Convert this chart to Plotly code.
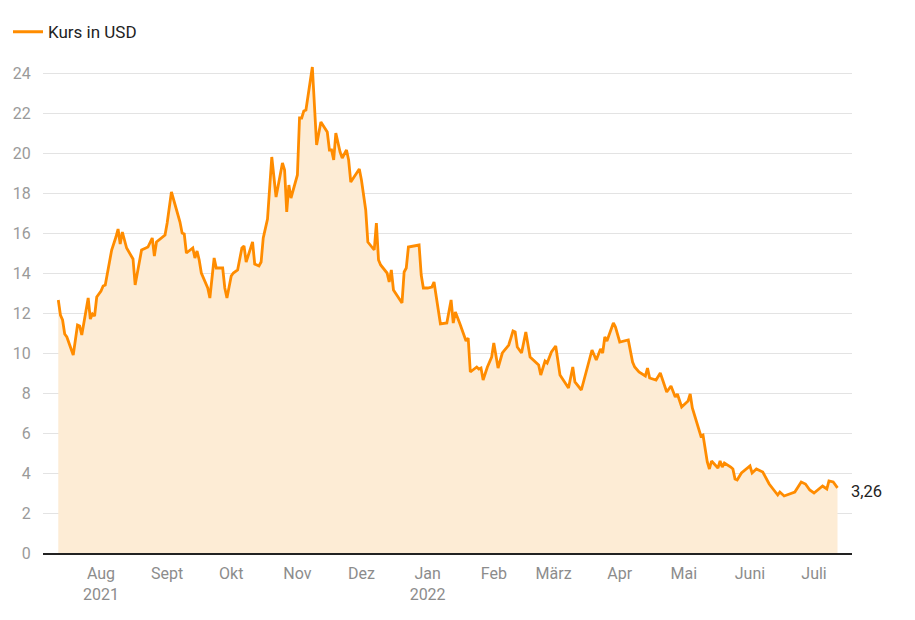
import plotly.graph_objects as go

dates = [
    "2021-07-12", "2021-07-13", "2021-07-14", "2021-07-15", "2021-07-16", "2021-07-19",
    "2021-07-21", "2021-07-22", "2021-07-23", "2021-07-26", "2021-07-27", "2021-07-28",
    "2021-07-29", "2021-07-30", "2021-08-01", "2021-08-02", "2021-08-03", "2021-08-06",
    "2021-08-08", "2021-08-09", "2021-08-10", "2021-08-11", "2021-08-13", "2021-08-15",
    "2021-08-16", "2021-08-17", "2021-08-20", "2021-08-22", "2021-08-23", "2021-08-25",
    "2021-08-26", "2021-08-27", "2021-08-31",
    "2021-09-01", "2021-09-03", "2021-09-05", "2021-09-07", "2021-09-08", "2021-09-09",
    "2021-09-10", "2021-09-12", "2021-09-13", "2021-09-14", "2021-09-15", "2021-09-16",
    "2021-09-17", "2021-09-20", "2021-09-21", "2021-09-23", "2021-09-24", "2021-09-27",
    "2021-09-28", "2021-09-29",
    "2021-10-01", "2021-10-02", "2021-10-04", "2021-10-06", "2021-10-07", "2021-10-08",
    "2021-10-11", "2021-10-12", "2021-10-14", "2021-10-15", "2021-10-16", "2021-10-18",
    "2021-10-20", "2021-10-22", "2021-10-25", "2021-10-26", "2021-10-27", "2021-10-28",
    "2021-10-29",
    "2021-11-01", "2021-11-02", "2021-11-03", "2021-11-04", "2021-11-05", "2021-11-08",
    "2021-11-10", "2021-11-12", "2021-11-15", "2021-11-16", "2021-11-17", "2021-11-18",
    "2021-11-19", "2021-11-21", "2021-11-22", "2021-11-24", "2021-11-25", "2021-11-26",
    "2021-11-30",
    "2021-12-01", "2021-12-03", "2021-12-04", "2021-12-07", "2021-12-08", "2021-12-09",
    "2021-12-10", "2021-12-13", "2021-12-14", "2021-12-15", "2021-12-16", "2021-12-20",
    "2021-12-21", "2021-12-22", "2021-12-23", "2021-12-28", "2021-12-29", "2021-12-30",
    "2022-01-01", "2022-01-03", "2022-01-04", "2022-01-06", "2022-01-07", "2022-01-10",
    "2022-01-12", "2022-01-13", "2022-01-14", "2022-01-16", "2022-01-19", "2022-01-20",
    "2022-01-21", "2022-01-24", "2022-01-25", "2022-01-26", "2022-01-27", "2022-01-29",
    "2022-01-31",
    "2022-02-01", "2022-02-03", "2022-02-05", "2022-02-08", "2022-02-10", "2022-02-11",
    "2022-02-12", "2022-02-14", "2022-02-16", "2022-02-18", "2022-02-22", "2022-02-23",
    "2022-02-25", "2022-02-26", "2022-02-28",
    "2022-03-02", "2022-03-04", "2022-03-08", "2022-03-10", "2022-03-11", "2022-03-14",
    "2022-03-17", "2022-03-19", "2022-03-21", "2022-03-23", "2022-03-24", "2022-03-25",
    "2022-03-26", "2022-03-29", "2022-03-30",
    "2022-04-01", "2022-04-05", "2022-04-07", "2022-04-08", "2022-04-10", "2022-04-13",
    "2022-04-14", "2022-04-15", "2022-04-18", "2022-04-20", "2022-04-23", "2022-04-25",
    "2022-04-27", "2022-04-28", "2022-04-30",
    "2022-05-03", "2022-05-04", "2022-05-05", "2022-05-09", "2022-05-10", "2022-05-12",
    "2022-05-13", "2022-05-14", "2022-05-17", "2022-05-18", "2022-05-19", "2022-05-20",
    "2022-05-23", "2022-05-24", "2022-05-25", "2022-05-26", "2022-05-28",
    "2022-06-01", "2022-06-02", "2022-06-04", "2022-06-07", "2022-06-10", "2022-06-14",
    "2022-06-15", "2022-06-17", "2022-06-22", "2022-06-25", "2022-06-27", "2022-06-29",
    "2022-07-01", "2022-07-05", "2022-07-07", "2022-07-08", "2022-07-10", "2022-07-12",
]

kurs_usd = [
    12.65, 11.9, 11.65, 10.95, 10.8, 9.9,
    11.4, 11.35, 10.9, 12.75, 11.7, 11.95,
    11.85, 12.8, 13.1, 13.35, 13.4, 15.15,
    15.8, 16.2, 15.45, 16.05, 15.25, 14.9,
    14.7, 13.4, 15.15, 15.25, 15.3, 15.75,
    14.85, 15.55, 15.9,
    16.5, 18.05, 17.3, 16.55, 16.0, 15.95,
    15.0, 15.15, 15.25, 14.75, 15.1, 14.65,
    14.0, 13.25, 12.75, 14.75, 14.25, 14.25,
    13.25, 12.75,
    13.85, 14.0, 14.15, 15.25, 15.35, 14.55,
    15.55, 14.45, 14.35, 14.55, 15.75, 16.7,
    19.8, 17.8, 19.5, 19.15, 17.05, 18.4,
    17.75,
    18.9, 21.75, 21.75, 22.1, 22.15, 24.3,
    20.4, 21.55, 21.05, 20.15, 20.15, 19.65,
    21.0, 20.05, 19.75, 20.15, 19.65, 18.55,
    19.2,
    18.65, 17.15, 15.55, 15.15, 16.5, 14.65,
    14.4, 14.0, 13.55, 14.15, 13.15, 12.5,
    14.05, 14.25, 15.3, 15.4, 13.9, 13.25,
    13.25, 13.3, 13.55, 12.15, 11.45, 11.5,
    12.65, 11.5, 12.05, 11.5, 10.6, 10.75,
    9.05, 9.3, 9.2, 9.25, 8.65, 9.3,
    9.8,
    10.5, 9.25, 10.0, 10.4, 11.1, 11.05,
    10.3, 10.0, 11.05, 9.8, 9.4, 8.9,
    9.6, 9.5, 10.05,
    10.35, 8.9, 8.25, 9.3, 8.55, 8.15,
    9.3, 10.15, 9.65, 10.2, 10.0, 10.8,
    10.6, 11.5, 11.3,
    10.55, 10.65, 9.55, 9.3, 9.05, 8.85,
    9.25, 8.75, 8.65, 9.0, 8.05, 8.35,
    7.8, 7.95, 7.3,
    7.6, 7.95, 7.25, 5.85, 5.9, 4.55,
    4.2, 4.6, 4.25, 4.6, 4.3, 4.5,
    4.3, 4.2, 3.7, 3.65, 4.0,
    4.35, 4.0, 4.2, 4.05, 3.45, 2.9,
    3.05, 2.85, 3.05, 3.55, 3.45, 3.15,
    3.0, 3.35, 3.2, 3.6, 3.55, 3.26,
]

tick_dates = ["2021-08-01", "2021-09-01", "2021-10-01", "2021-11-01", "2021-12-01",
              "2022-01-01", "2022-02-01", "2022-03-01", "2022-04-01", "2022-05-01",
              "2022-06-01", "2022-07-01"]
tick_labels = ["Aug<br>2021", "Sept", "Okt", "Nov", "Dez", "Jan<br>2022", "Feb",
               "März", "Apr", "Mai", "Juni", "Juli"]
y_ticks = [0, 2, 4, 6, 8, 10, 12, 14, 16, 18, 20, 22, 24]

LINE = "#ff8c00"
FILL = "#fdecd5"

fig = go.Figure()
fig.add_trace(go.Scatter(
    x=dates, y=kurs_usd, mode="lines", fill="tozeroy", fillcolor=FILL,
    line=dict(width=0, color=FILL), showlegend=False, hoverinfo="skip",
))
fig.add_trace(go.Scatter(
    x=dates, y=kurs_usd, mode="lines", name="Kurs in USD",
    line=dict(width=2.8, color=LINE, shape="linear"),
))

last_val = kurs_usd[-1]
fig.add_annotation(
    x=dates[-1], y=last_val, text=f"{last_val:.2f}".replace(".", ","),
    showarrow=False, xanchor="left", yanchor="middle", xshift=11, yshift=-4,
    font=dict(size=16.5, color="#222222"),
)

fig.update_layout(
    width=915, height=620,
    margin=dict(l=35, r=71, t=45, b=75, autoexpand=False),
    paper_bgcolor="white", plot_bgcolor="white",
    font=dict(family="Roboto, 'Noto Sans', sans-serif", size=16, color="#999999"),
    showlegend=True,
    legend=dict(
        orientation="h", xref="container", yref="container",
        x=-0.006, y=0.99, xanchor="left", yanchor="top",
        font=dict(size=17, color="#222222"), bgcolor="rgba(0,0,0,0)",
    ),
    xaxis=dict(
        type="date", range=["2021-07-04 20:00", "2022-07-18 19:00"],
        tickvals=tick_dates, ticktext=tick_labels,
        showgrid=False, zeroline=False,
        showline=True, linecolor="#222222", linewidth=1.5,
        ticks="outside", ticklen=5, tickcolor="rgba(0,0,0,0)",
        tickfont=dict(size=16, color="#8c8c8c"),
    ),
    yaxis=dict(
        range=[0, 25], tickvals=y_ticks,
        showgrid=True, gridcolor="#e3e3e3", gridwidth=1,
        zeroline=False, showline=False,
        ticks="outside", ticklen=8, tickcolor="rgba(0,0,0,0)",
        tickfont=dict(size=16, color="#9a9a9a"),
    ),
)

fig.write_html("out.html")
